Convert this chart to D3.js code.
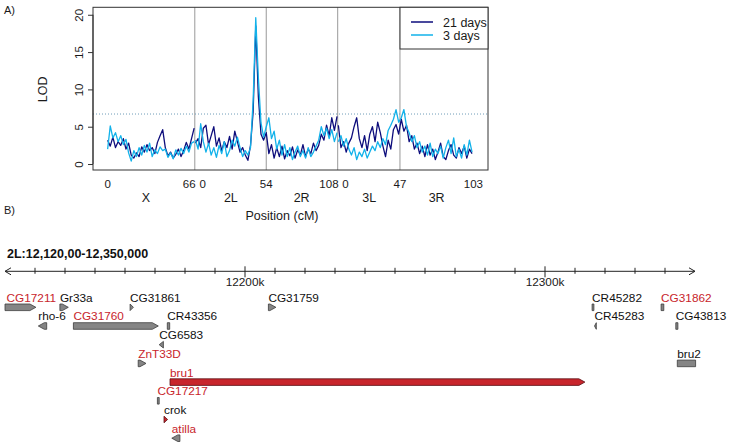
<!DOCTYPE html>
<html>
<head>
<meta charset="utf-8">
<script src="https://cdn.jsdelivr.net/npm/d3@7"></script>
<style>
  body { margin: 0; background: #fff; }
  text { font-family: "Liberation Sans", Arial, Helvetica, sans-serif; }
</style>
</head>
<body>
<div id="chart"></div>
<script>
// ---- data: LOD scan (one value every 2 cM per chromosome) ----
var step = 2;
var chromNames = ['X', '2', '3'];
var chromLengths = [66, 108, 103];
var armNames = ['X', '2L', '2R', '3L', '3R'];
var armChrom = [0, 1, 1, 2, 2];
var armStart = [0, 0, 54, 0, 47];
var armEnd = [66, 54, 108, 47, 103];
var tickChrom = [0, 0, 1, 1, 1, 2, 2, 2];
var tickPos = [0, 66, 0, 54, 108, 0, 47, 103];
var yTicks = [0, 5, 10, 15, 20];
var threshold = 6.7;
var seriesNames = ['21 days', '3 days'];

var lod21X = [3.2,2.4,3.6,2.2,3.0,2.5,3.4,2.0,2.8,1.2,0.8,1.5,1.0,2.3,1.6,2.6,1.8,2.2,1.4,2.9,3.8,4.6,2.2,1.1,1.6,0.8,1.3,2.0,1.0,1.8,2.9,2.0,3.4,4.8];
var lod21Chr2 = [2.8,3.4,2.2,4.8,5.2,2.6,3.8,5.0,2.4,3.5,1.8,3.0,2.2,3.7,2.0,4.4,3.0,1.6,2.2,1.2,0.5,2.5,7.0,18.5,9.0,4.0,3.2,4.2,1.4,2.6,0.8,2.2,1.0,2.4,0.7,1.8,1.1,2.3,0.8,1.9,1.2,2.6,1.0,2.0,1.4,2.8,1.8,2.5,4.0,3.2,5.2,3.8,6.2,4.5,6.4];
var lod21Chr3 = [5.2,2.2,3.0,1.6,2.8,3.5,5.0,6.2,3.4,2.2,3.8,1.8,4.0,5.0,3.0,5.6,4.2,2.4,1.0,3.2,2.0,4.6,5.3,4.0,6.0,4.4,5.2,3.0,3.8,2.0,2.8,1.4,2.4,1.0,2.6,1.2,2.0,0.6,1.6,2.8,1.0,0.6,1.8,2.6,1.2,0.8,2.2,1.4,2.4,0.8,2.0,1.4];

var lod3X = [2.0,5.1,3.5,4.2,3.0,3.8,2.6,3.3,1.5,0.4,1.8,1.0,2.2,1.2,2.5,1.6,2.8,1.0,1.9,1.4,2.3,1.8,2.0,0.9,1.5,0.7,1.9,1.2,2.1,1.4,2.4,1.6,2.8,3.0];
var lod3Chr2 = [3.2,2.0,5.4,3.0,1.6,2.8,1.2,2.2,0.9,2.5,1.4,3.0,1.0,1.8,3.2,2.4,3.6,2.2,1.0,1.8,1.2,2.2,8.5,19.6,11.5,5.5,3.6,5.0,6.2,3.4,4.4,2.0,3.2,1.2,2.6,1.0,2.2,0.6,1.6,2.4,1.0,1.8,0.8,2.2,1.0,1.6,2.4,3.2,5.0,3.8,4.8,3.4,4.6,3.0,4.2];
var lod3Chr3 = [3.0,3.8,2.4,3.4,2.0,1.2,2.2,0.6,1.6,1.0,2.0,0.8,1.6,2.4,1.8,3.0,2.2,3.4,2.6,4.5,5.2,6.0,7.3,5.6,6.2,7.3,5.0,4.2,3.0,3.8,2.2,3.0,1.6,2.4,1.2,2.8,1.0,2.0,1.4,2.4,0.8,2.2,3.2,1.4,3.5,1.0,2.0,0.8,2.6,1.2,3.2,1.6];

// ---- data: gene track ----
var regionLabel = '2L:12,120,00-12,350,000';
var regionStart = 12120000, regionEnd = 12350000;
var majorTicks = [12200000, 12300000];
var geneNames = ['CG17211','Gr33a','CG31861','CG31759','CR45282','CG31862','rho-6','CG31760','CR43356','CR45283','CG43813','CG6583','ZnT33D','bru2','bru1','CG17217','crok','atilla'];
var geneStart = [12120000,12138300,12161700,12207800,12315700,12338700,12131100,12142800,12174100,12316500,12343600,12171400,12164400,12344100,12175000,12170800,12173000,12175600];
var geneEnd = [12130300,12141100,12162800,12210300,12316300,12339600,12133900,12171100,12174900,12317100,12344300,12172800,12167000,12350200,12313300,12171400,12174200,12178300];
var geneStrand = [1,1,1,1,0,0,-1,1,0,-1,0,-1,1,0,1,0,1,-1];
var geneRow = [0,0,0,0,0,0,1,1,1,1,1,2,3,3,4,5,6,7];
var geneCandidate = [1,0,0,0,0,1,0,1,0,0,0,0,1,0,1,1,0,1];   // red label
var geneHit = [0,0,0,0,0,0,0,0,0,0,0,0,0,0,1,0,1,0];         // red glyph

// ---- layout ----
var W = 731, H = 446;
var box = {left: 93, right: 488, top: 7.3, bottom: 170};
var navy = '#0d0d7c', sky = '#12b2ea', red = '#c8252c', ink = '#1a1a1a';

var svg = d3.select('#chart').append('svg')
    .attr('width', W).attr('height', H);

// cumulative positions, 1 cM gap between chromosomes
var gap = 1;
var chromOffset = [];
var acc = 0;
chromLengths.forEach(function(l, i){ chromOffset.push(acc); acc += l + (i < chromLengths.length - 1 ? gap : 0); });
var total = acc;
var padX = total * 0.04;

var x = d3.scaleLinear().domain([-padX, total + padX]).range([box.left, box.right]);
var y = d3.scaleLinear().domain([-0.8, 21.0]).range([box.bottom, box.top]);

function cum(c, p){ return chromOffset[c] + p; }

svg.append('text').attr('x', 4).attr('y', 14).attr('font-size', 11).attr('fill', ink).text('A)');

// separators between chromosome arms
var seps = [cum(0, 66) + gap / 2, cum(1, 54), cum(1, 108) + gap / 2, cum(2, 47)];
svg.selectAll('line.sep').data(seps).enter().append('line')
    .attr('x1', function(d){ return x(d); }).attr('x2', function(d){ return x(d); })
    .attr('y1', box.top).attr('y2', box.bottom)
    .attr('stroke', '#999').attr('stroke-width', 1);

// threshold
svg.append('line')
    .attr('x1', box.left).attr('x2', box.right)
    .attr('y1', y(threshold)).attr('y2', y(threshold))
    .attr('stroke', '#6f9cb8').attr('stroke-width', 1).attr('stroke-dasharray', '1,2');

// curves
var line = d3.line().x(function(d){ return x(d[0]); }).y(function(d){ return y(d[1]); });
function pts(c, arr){ return arr.map(function(v, i){ return [cum(c, i * step), v]; }); }

[[lod21X, lod21Chr2, lod21Chr3, navy], [lod3X, lod3Chr2, lod3Chr3, sky]].forEach(function(s){
  [0, 1, 2].forEach(function(c){
    svg.append('path').datum(pts(c, s[c]))
        .attr('d', line).attr('fill', 'none')
        .attr('stroke', s[3]).attr('stroke-width', 1.3).attr('stroke-linejoin', 'round');
  });
});

// box
svg.append('rect').attr('x', box.left).attr('y', box.top)
    .attr('width', box.right - box.left).attr('height', box.bottom - box.top)
    .attr('fill', 'none').attr('stroke', '#333').attr('stroke-width', 1);

// y axis
var yAxis = svg.append('g').attr('transform', 'translate(' + box.left + ',0)')
    .call(d3.axisLeft(y).tickValues(yTicks).tickSize(5).tickSizeOuter(0));
yAxis.select('.domain').attr('d', 'M0,' + y(0) + 'V' + y(20)).attr('stroke', '#333');
yAxis.selectAll('.tick line').attr('stroke', '#333');
yAxis.selectAll('.tick text')
    .attr('font-size', 11.5).attr('fill', ink).attr('font-family', null)
    .attr('text-anchor', 'middle')
    .attr('transform', 'translate(-10.5,0) rotate(-90)')
    .attr('x', 0).attr('y', 0).attr('dy', 0);

svg.append('text').attr('transform', 'translate(47,' + y(10) + ') rotate(-90)')
    .attr('text-anchor', 'middle').attr('font-size', 12.5).attr('fill', ink).text('LOD');

// x tick labels
var xt = svg.append('g');
tickPos.forEach(function(p, i){
  var c = tickChrom[i];
  var isEnd = p === chromLengths[c], isStart = p === 0;
  var anchor = 'middle', dx = 0;
  if (isEnd && c < chromNames.length - 1) { anchor = 'end'; dx = 1.5; }
  if (isStart && c > 0) { anchor = 'start'; dx = 4; }
  xt.append('text').attr('x', x(cum(c, p)) + dx).attr('y', 188)
      .attr('text-anchor', anchor).attr('font-size', 11.5).attr('fill', ink).text(p);
});
armNames.forEach(function(a, i){
  var c = armChrom[i];
  xt.append('text').attr('x', x(cum(c, (armStart[i] + armEnd[i]) / 2)) - (i === 0 ? 5 : 0)).attr('y', 202)
      .attr('text-anchor', 'middle').attr('font-size', 12.5).attr('fill', ink).text(a);
});
svg.append('text').attr('x', 282).attr('y', 220)
    .attr('text-anchor', 'middle').attr('font-size', 12.5).attr('fill', ink).text('Position (cM)');

// legend
var lg = svg.append('g');
lg.append('rect').attr('x', 400).attr('y', box.top).attr('width', box.right - 400).attr('height', 41.7)
    .attr('fill', '#fff').attr('stroke', '#333').attr('stroke-width', 1);
seriesNames.forEach(function(n, i){
  lg.append('line').attr('x1', 411).attr('x2', 433).attr('y1', 22 + i * 13).attr('y2', 22 + i * 13)
      .attr('stroke', i === 0 ? navy : sky).attr('stroke-width', 1.5);
  lg.append('text').attr('x', 443).attr('y', 26.5 + i * 13).attr('font-size', 12.5).attr('fill', ink).text(n);
});

// ---- gene track ----
svg.append('text').attr('x', 4).attr('y', 214).attr('font-size', 11).attr('fill', ink).text('B)');
svg.append('text').attr('x', 7).attr('y', 258).attr('font-size', 12.5).attr('font-weight', 'bold')
    .attr('fill', '#111').text(regionLabel);

var gx = d3.scaleLinear().domain([regionStart, regionEnd]).range([5, 695]);
var axisY = 271.3;
var ga = svg.append('g');
ga.append('line').attr('x1', gx(regionStart)).attr('x2', gx(regionEnd)).attr('y1', axisY).attr('y2', axisY)
    .attr('stroke', '#222').attr('stroke-width', 1);
ga.append('path').attr('d', 'M' + (gx(regionStart) + 6) + ',' + (axisY - 3.5) + 'L' + gx(regionStart) + ',' + axisY + 'L' + (gx(regionStart) + 6) + ',' + (axisY + 3.5))
    .attr('fill', 'none').attr('stroke', '#222');
ga.append('path').attr('d', 'M' + (gx(regionEnd) - 6) + ',' + (axisY - 3.5) + 'L' + gx(regionEnd) + ',' + axisY + 'L' + (gx(regionEnd) - 6) + ',' + (axisY + 3.5))
    .attr('fill', 'none').attr('stroke', '#222');
var minor = d3.range(regionStart + 10000, regionEnd, 10000);
ga.selectAll('line.tk').data(minor).enter().append('line')
    .attr('x1', function(d){ return gx(d); }).attr('x2', function(d){ return gx(d); })
    .attr('y1', function(d){ return majorTicks.indexOf(d) >= 0 ? axisY - 5 : axisY - 3.5; })
    .attr('y2', function(d){ return majorTicks.indexOf(d) >= 0 ? axisY + 6 : axisY + 2.5; })
    .attr('stroke', '#222').attr('stroke-width', 1);
ga.selectAll('text.tk').data(majorTicks).enter().append('text')
    .attr('x', function(d){ return gx(d); }).attr('y', 285.5)
    .attr('text-anchor', 'middle').attr('font-size', 11.8).attr('fill', ink)
    .text(function(d){ return (d / 1000) + 'k'; });

var rowLabelY = 301.7, rowGap = 18.7, glyphOff = 5.6, gh = 6.6;
function glyph(i){
  var x0 = gx(geneStart[i]), x1 = Math.min(gx(geneEnd[i]), gx(regionEnd) + 1);
  var yc = rowLabelY + geneRow[i] * rowGap + glyphOff, h = gh / 2;
  var w = x1 - x0, head = Math.min(6, w);
  if (geneStrand[i] === 1) {
    return 'M' + x0 + ',' + (yc - h) + 'L' + (x1 - head) + ',' + (yc - h) + 'L' + x1 + ',' + yc +
           'L' + (x1 - head) + ',' + (yc + h) + 'L' + x0 + ',' + (yc + h) + 'Z';
  } else if (geneStrand[i] === -1) {
    return 'M' + x1 + ',' + (yc - h) + 'L' + (x0 + head) + ',' + (yc - h) + 'L' + x0 + ',' + yc +
           'L' + (x0 + head) + ',' + (yc + h) + 'L' + x1 + ',' + (yc + h) + 'Z';
  }
  return 'M' + x0 + ',' + (yc - h) + 'H' + x1 + 'V' + (yc + h) + 'H' + x0 + 'Z';
}
var genes = svg.append('g');
geneNames.forEach(function(n, i){
  genes.append('path').attr('d', glyph(i))
      .attr('fill', geneHit[i] ? red : '#858585')
      .attr('stroke', geneHit[i] ? '#5a1216' : '#3c3c3c').attr('stroke-width', 0.8);
  genes.append('text').attr('x', gx(geneStart[i]) + (i === 0 ? 1.5 : 0))
      .attr('y', rowLabelY + geneRow[i] * rowGap)
      .attr('font-size', 11.8).attr('fill', geneCandidate[i] ? red : '#111').text(n);
});
</script>
</body>
</html>
